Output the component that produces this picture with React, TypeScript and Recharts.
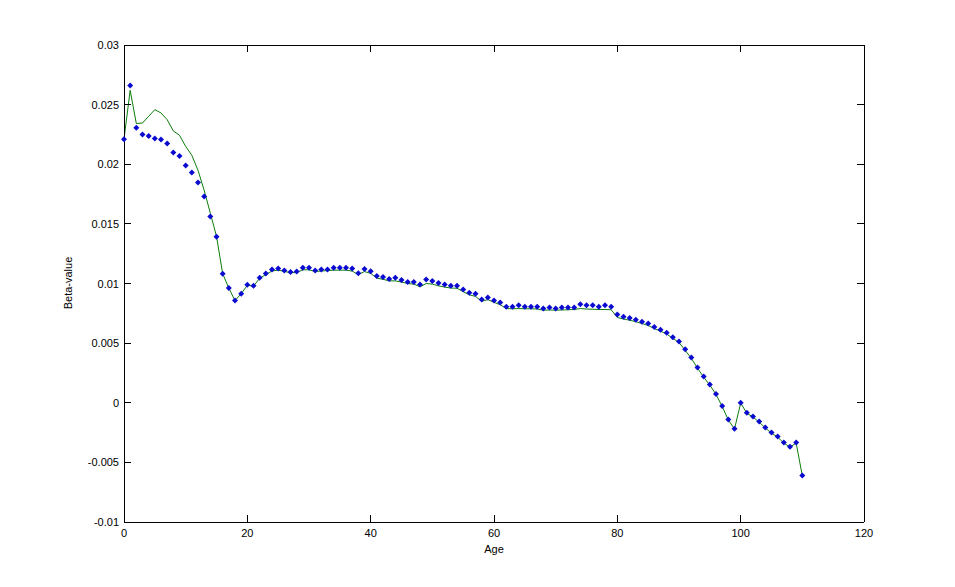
import React from 'react';
import { LineChart, Line, XAxis, YAxis } from 'recharts';

// age in years (0..110)
const ages = [
  0, 1, 2, 3, 4, 5, 6, 7, 8, 9, 10, 11, 12, 13, 14, 15, 16, 17, 18, 19,
  20, 21, 22, 23, 24, 25, 26, 27, 28, 29, 30, 31, 32, 33, 34, 35, 36, 37, 38, 39,
  40, 41, 42, 43, 44, 45, 46, 47, 48, 49, 50, 51, 52, 53, 54, 55, 56, 57, 58, 59,
  60, 61, 62, 63, 64, 65, 66, 67, 68, 69, 70, 71, 72, 73, 74, 75, 76, 77, 78, 79,
  80, 81, 82, 83, 84, 85, 86, 87, 88, 89, 90, 91, 92, 93, 94, 95, 96, 97, 98, 99,
  100, 101, 102, 103, 104, 105, 106, 107, 108, 109, 110,
];

// blue markers (estimated beta per age)
const betaPoints = [
  0.0221, 0.0266, 0.02307, 0.02249, 0.02237, 0.02215, 0.02207, 0.02173, 0.02098, 0.02069,
  0.01989, 0.0193, 0.01846, 0.01729, 0.01561, 0.01393, 0.01082, 0.00962, 0.00857, 0.00914,
  0.00989, 0.00982, 0.01049, 0.01083, 0.01117, 0.01125, 0.01108, 0.01096, 0.011, 0.01133,
  0.01133, 0.01108, 0.01117, 0.01117, 0.01133, 0.01133, 0.01133, 0.01125, 0.01085, 0.01122,
  0.01102, 0.01063, 0.01054, 0.01038, 0.01049, 0.01029, 0.01013, 0.01013, 0.00991, 0.01033,
  0.01021, 0.01004, 0.00991, 0.00982, 0.00982, 0.00949, 0.00922, 0.00915, 0.00865, 0.00882,
  0.00857, 0.0084, 0.00806, 0.00806, 0.00817, 0.00806, 0.00806, 0.00806, 0.0079, 0.00798,
  0.0079, 0.00798, 0.00798, 0.00798, 0.00826, 0.00817, 0.00817, 0.00806, 0.00817, 0.00806,
  0.00739, 0.00722, 0.00711, 0.00697, 0.0068, 0.00664, 0.00635, 0.00613, 0.00588, 0.00549,
  0.00513, 0.00448, 0.00379, 0.00295, 0.0022, 0.00153, 0.00074, -0.00027, -0.00141, -0.00217,
  0.00001, -0.00083, -0.00116, -0.00158, -0.00208, -0.0025, -0.00284, -0.00334, -0.00368, -0.00334,
  -0.00611,
];

// green line
const betaFitted = [
  0.0221, 0.0262, 0.02341, 0.02346, 0.02402, 0.02458, 0.0243, 0.02374, 0.02279, 0.02243,
  0.0215, 0.02075, 0.01949, 0.01782, 0.01589, 0.01396, 0.01083, 0.0096, 0.00857, 0.00914,
  0.00985, 0.00978, 0.01043, 0.01075, 0.01105, 0.01112, 0.01102, 0.0109, 0.01092, 0.01115,
  0.01115, 0.011, 0.01105, 0.01108, 0.01112, 0.01112, 0.01112, 0.01104, 0.01075, 0.011,
  0.01085, 0.01045, 0.01035, 0.01022, 0.01022, 0.01012, 0.01, 0.00995, 0.00972, 0.01,
  0.00995, 0.0098, 0.0097, 0.00962, 0.0096, 0.00932, 0.00905, 0.00892, 0.0085, 0.00865,
  0.00842, 0.00822, 0.0079, 0.00788, 0.0079, 0.00788, 0.00788, 0.00786, 0.00776, 0.00778,
  0.00776, 0.00778, 0.0078, 0.00782, 0.0079, 0.00786, 0.00784, 0.00782, 0.00782, 0.0078,
  0.00715, 0.00702, 0.00692, 0.0068, 0.00664, 0.00648, 0.00622, 0.006, 0.00576, 0.0054,
  0.00505, 0.0044, 0.00372, 0.0029, 0.00215, 0.00148, 0.0007, -0.0003, -0.00145, -0.0022,
  -0.00002, -0.00088, -0.0012, -0.00162, -0.00212, -0.00254, -0.00288, -0.00338, -0.00372, -0.00338,
  -0.00614,
];

const xTicks = [0, 20, 40, 60, 80, 100, 120];
const yTicks = [-0.01, -0.005, 0, 0.005, 0.01, 0.015, 0.02, 0.025, 0.03];

const data = ages.map((age, i) => ({ age, beta: betaPoints[i], fit: betaFitted[i] }));

const FONT = '"Liberation Sans", Arial, sans-serif';
const TICK_LEN = 7;

const fmt = (v: number) => String(Number(v.toFixed(3)));

const LeftTick = (p: any) => (
  <g>
    <line x1={p.x} x2={p.x + TICK_LEN} y1={p.y} y2={p.y} stroke="#000" shapeRendering="crispEdges" />
    <text x={p.x - 5} y={p.y} dy={4} textAnchor="end" fontSize={11} fontFamily={FONT} fill="#000">
      {fmt(p.payload.value)}
    </text>
  </g>
);

const RightTick = (p: any) => (
  <line x1={p.x} x2={p.x - TICK_LEN} y1={p.y} y2={p.y} stroke="#000" shapeRendering="crispEdges" />
);

const BottomTick = (p: any) => (
  <g>
    <line x1={p.x} x2={p.x} y1={p.y} y2={p.y - TICK_LEN} stroke="#000" shapeRendering="crispEdges" />
    <text x={p.x} y={p.y + 15} textAnchor="middle" fontSize={11} fontFamily={FONT} fill="#000">
      {p.payload.value}
    </text>
  </g>
);

const TopTick = (p: any) => (
  <line x1={p.x} x2={p.x} y1={p.y} y2={p.y + TICK_LEN} stroke="#000" shapeRendering="crispEdges" />
);

const Diamond = (p: any) => {
  const { cx, cy } = p;
  if (cx == null || cy == null) return <g key={p.key} />;
  return (
    <polygon
      key={p.key}
      points={`${cx},${cy - 3} ${cx + 3},${cy} ${cx},${cy + 3} ${cx - 3},${cy}`}
      fill="#0a0ad0"
      stroke="none"
    />
  );
};

const axisLine = { stroke: '#000', shapeRendering: 'crispEdges' };

export default function App() {
  return (
    <div style={{ position: 'absolute', left: 0, top: 0, width: 955, height: 587, background: '#fff' }}>
      <LineChart width={955} height={587} data={data} margin={{ top: 44, right: 90, bottom: 35, left: 64 }}>
        <XAxis
          xAxisId="bottom"
          dataKey="age"
          type="number"
          domain={[0, 120]}
          ticks={xTicks}
          height={30}
          tickSize={0}
          tickMargin={0}
          axisLine={axisLine}
          tickLine={false}
          tick={BottomTick}
          interval={0}
        />
        <XAxis
          xAxisId="top"
          orientation="top"
          dataKey="age"
          type="number"
          domain={[0, 120]}
          ticks={xTicks}
          height={1}
          tickSize={0}
          tickMargin={0}
          axisLine={axisLine}
          tickLine={false}
          tick={TopTick}
          interval={0}
        />
        <YAxis
          yAxisId="left"
          type="number"
          domain={[-0.01, 0.03]}
          ticks={yTicks}
          width={60}
          tickSize={0}
          tickMargin={0}
          axisLine={axisLine}
          tickLine={false}
          tick={LeftTick}
          interval={0}
        />
        <YAxis
          yAxisId="right"
          orientation="right"
          type="number"
          domain={[-0.01, 0.03]}
          ticks={yTicks}
          width={1}
          tickSize={0}
          tickMargin={0}
          axisLine={axisLine}
          tickLine={false}
          tick={RightTick}
          interval={0}
        />
        <Line
          xAxisId="top"
          yAxisId="right"
          dataKey="fit"
          type="linear"
          stroke="#0b7d0b"
          strokeWidth={1}
          dot={false}
          activeDot={false}
          isAnimationActive={false}
        />
        <Line
          xAxisId="bottom"
          yAxisId="left"
          dataKey="beta"
          type="linear"
          stroke="none"
          dot={Diamond}
          activeDot={false}
          isAnimationActive={false}
        />
        <text x={494} y={553} textAnchor="middle" fontSize={11} fontFamily={FONT} fill="#000">
          Age
        </text>
        <text
          x={72}
          y={283}
          transform="rotate(-90 72 283)"
          textAnchor="middle"
          fontSize={11}
          fontFamily={FONT}
          fill="#000"
        >
          Beta-value
        </text>
      </LineChart>
    </div>
  );
}
